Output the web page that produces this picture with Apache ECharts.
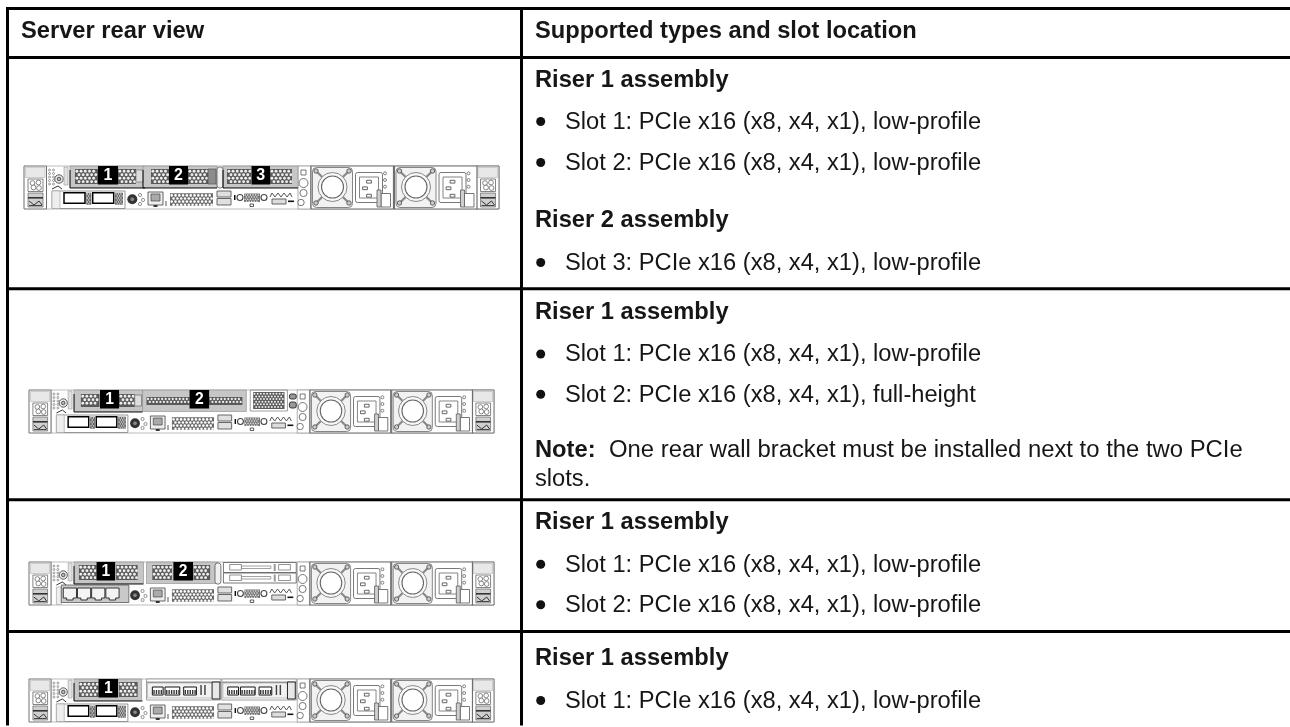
<!DOCTYPE html>
<html><head><meta charset="utf-8">
<style>html,body{margin:0;padding:0;background:#fff}#c{width:1290px;height:727px}</style>
<script src="https://cdn.jsdelivr.net/npm/echarts@6/dist/echarts.min.js"></script>
</head><body><div id="c"></div>
<script>
// ---- content ----
const headers = ['Server rear view', 'Supported types and slot location'];
const slotLP1 = 'Slot 1: PCIe x16 (x8, x4, x1), low-profile';
const slotLP2 = 'Slot 2: PCIe x16 (x8, x4, x1), low-profile';
const slotLP3 = 'Slot 3: PCIe x16 (x8, x4, x1), low-profile';
const slotFH2 = 'Slot 2: PCIe x16 (x8, x4, x1), full-height';
const riser1 = 'Riser 1 assembly', riser2 = 'Riser 2 assembly';
const noteLabel = 'Note:';
const noteLine1 = 'One rear wall bracket must be installed next to the two PCIe';
const noteLine2 = 'slots.';
const row1Lines = [['h', riser1], ['b', slotLP1], ['b', slotLP2], ['h', riser2], ['b', slotLP3]];
const row2Lines = [['h', riser1], ['b', slotLP1], ['b', slotFH2], ['n', noteLine1], ['t', noteLine2]];
const row3Lines = [['h', riser1], ['b', slotLP1], ['b', slotLP2]];
const row4Lines = [['h', riser1], ['b', slotLP1]];

// ---- layout ----
const FONT = '"Liberation Sans", Arial, sans-serif';
const INK = '#161616', RULE = '#000';
const hRules = [8.5, 57.5, 288.7, 499.8, 631.4];
const colX = 521.5, leftX = 7.5;
const textX = 535, slotX = 565, bulletX = 540.7;
const rowBase = [
  [87, 129, 170, 227, 270],
  [319, 361.5, 401.7, 456.7, 485.7],
  [529.3, 571.7, 612.3],
  [665, 708]
];
const rowLines = [row1Lines, row2Lines, row3Lines, row4Lines];
const serverBoxes = [
  {x: 24, y: 166, w: 475, h: 43, kind: 'three'},
  {x: 29, y: 390, w: 465, h: 43, kind: 'full'},
  {x: 29, y: 562, w: 465, h: 43, kind: 'drives'},
  {x: 29, y: 679, w: 465, h: 43, kind: 'risers'}
];

const els = [];
function rect(x, y, w, h, s) { return {type: 'rect', shape: {x, y, width: w, height: h, r: (s && s.r) || 0}, style: Object.assign({fill: 'none', stroke: null}, s), silent: true}; }
function circ(cx, cy, r, s) { return {type: 'circle', shape: {cx, cy, r}, style: Object.assign({fill: 'none', stroke: null}, s), silent: true}; }
function line(pts, s) { return {type: 'polyline', shape: {points: pts}, style: Object.assign({fill: 'none', stroke: '#555', lineWidth: 1}, s), silent: true}; }
function text(t, x, y, font, fill, align, sx) {
  return {type: 'text', x, y, scaleX: sx || 1, silent: true, style: {text: t, font, fill: fill || INK, textAlign: align || 'left', textVerticalAlign: 'middle'}};
}

// table rules
hRules.forEach(y => els.push(rect(leftX - 1.5, y - 1.5, 1290 - leftX + 1.5, 3, {fill: RULE})));
els.push(rect(leftX - 1.5, hRules[0] - 1.5, 3, 727 - hRules[0], {fill: RULE}));
els.push(rect(colX - 1.5, hRules[0] - 1.5, 3, 727 - hRules[0], {fill: RULE}));

// table text (baseline -> middle offset)
const SIZE = 23, MID = 6.5, STRETCH = 1.03, NOTE_STRETCH = 1.037;
const bold = 'bold ' + SIZE + 'px ' + FONT, reg = SIZE + 'px ' + FONT;
els.push(text(headers[0], 21, 38.5 - MID, bold, null, null, STRETCH));
els.push(text(headers[1], textX, 38.5 - MID, bold, null, null, STRETCH));
rowLines.forEach((lines, i) => lines.forEach((ln, j) => {
  const y = rowBase[i][j] - MID;
  if (ln[0] === 'h') els.push(text(ln[1], textX, y, bold, null, null, STRETCH));
  if (ln[0] === 'b') {
    els.push(circ(bulletX, rowBase[i][j] - 7.5, 4.5, {fill: '#111'}));
    els.push(text(ln[1], slotX, y, reg, null, null, STRETCH));
  }
  if (ln[0] === 'n') {
    els.push(text(noteLabel, textX, y, bold, null, null, STRETCH));
    els.push(text(ln[1], 609, y, reg, null, null, NOTE_STRETCH));
  }
  if (ln[0] === 't') els.push(text(ln[1], textX, y, reg, null, null, STRETCH));
}));

// ---- server drawing, local units 475 x 43 ----
const GR = '#6f6f6f', BAND = '#c6c6c6';
function honey(o, x, y, w, h, step, r, bg, hole) {
  o.push(rect(x, y, w, h, {fill: bg || '#5a5a5a'}));
  const st = step || 4.2, rad = r || 1.45;
  let row = 0;
  for (let yy = y + st * 0.55; yy < y + h - 0.6; yy += st * 0.82, row++) {
    for (let xx = x + (row % 2 ? st * 0.95 : st * 0.45); xx < x + w - 0.6; xx += st) {
      o.push(circ(xx, yy, rad, {fill: hole || '#eee'}));
    }
  }
}
function label(o, n, x, w) {
  o.push(rect(x, 0, w, 18.5, {fill: '#000'}));
  o.push(text(String(n), x + w / 2, 9.8, 'bold 16px ' + FONT, '#fff', 'center'));
}
function ear(o, x) {
  o.push(rect(x, 0, 22.5, 43, {fill: '#fff', stroke: GR, lineWidth: 1}));
  o.push(rect(x + 1.5, 1.5, 19.5, 10, {fill: '#e8e8e8', stroke: '#bbb', lineWidth: 0.7}));
  o.push(rect(x + 4, 13, 15, 12.5, {fill: '#fff', stroke: '#666', lineWidth: 0.8}));
  [[8.5, 17], [14.5, 16.5], [9.5, 21.5], [15, 22]].forEach(p => o.push(circ(x + p[0], p[1], 2.4, {fill: '#fff', stroke: '#555', lineWidth: 0.7})));
  o.push(rect(x + 4, 27, 15, 14, {fill: '#cfcfcf', stroke: '#666', lineWidth: 0.7}));
  o.push(rect(x + 4, 31, 15, 1.6, {fill: '#333'}));
  o.push(line([[x + 5, 35], [x + 10, 39], [x + 15, 35], [x + 18, 39]], {stroke: '#333', lineWidth: 1}));
  o.push(line([[x + 5, 39.5], [x + 18, 39.5]], {stroke: '#444', lineWidth: 1}));
}
function psu(o, u) {
  o.push(rect(u, 0, 82.5, 43, {fill: '#fff', stroke: GR, lineWidth: 1.2}));
  o.push(rect(u + 1.5, 1.5, 40, 40, {fill: '#f2f2f2', stroke: '#777', lineWidth: 0.9, r: 4}));
  const cx = u + 21.5, cy = 21;
  o.push(line([[u + 5, 5], [u + 38, 37]], {stroke: '#888', lineWidth: 2.2}));
  o.push(line([[u + 38, 5], [u + 5, 37]], {stroke: '#888', lineWidth: 2.2}));
  o.push(circ(cx, cy, 14.5, {fill: '#f8f8f8', stroke: '#888', lineWidth: 1}));
  o.push(circ(cx, cy, 11, {fill: '#fff', stroke: '#666', lineWidth: 1.1}));
  [[5, 5], [38, 5], [5, 37], [38, 37]].forEach(p => o.push(circ(u + p[0], p[1], 2.2, {fill: '#ccc', stroke: '#555', lineWidth: 0.9})));
  o.push(rect(u + 44.5, 6.5, 27, 30, {fill: '#fff', stroke: '#777', lineWidth: 1, r: 2}));
  o.push(rect(u + 48.5, 11, 19, 21, {fill: '#fff', stroke: '#777', lineWidth: 0.9}));
  [[58, 15.7], [54, 22.3], [58, 29.7]].forEach(p => o.push(rect(u + p[0] - 2.4, p[1] - 1.4, 4.8, 2.8, {fill: '#fff', stroke: '#555', lineWidth: 0.9})));
  [7.3, 14, 20.7].forEach(v => o.push(circ(u + 74, v, 1.5, {fill: '#fff', stroke: '#666', lineWidth: 0.8})));
  o.push(rect(u + 70, 27.5, 9.5, 13.5, {fill: '#fff', stroke: '#666', lineWidth: 0.9}));
  o.push(rect(u + 66, 24, 4, 17, {fill: '#cfcfcf', stroke: '#666', lineWidth: 0.9}));
}
function base(o, withOcp) {
  o.push(rect(22.5, 0, 452.5, 43, {fill: '#fff', stroke: '#aaa', lineWidth: 0.8}));
  ear(o, 0);
  ear(o, 452.5);
  for (let i = 0; i < 5; i++) {
    o.push(circ(25.5, 4 + i * 3.5, 1, {stroke: '#777', lineWidth: 0.7}));
    o.push(circ(29.5, 4 + i * 3.5, 1, {stroke: '#777', lineWidth: 0.7}));
  }
  o.push(circ(35, 13, 4.2, {fill: '#eee', stroke: '#555', lineWidth: 1}));
  o.push(circ(35, 13, 1.8, {fill: '#bbb', stroke: '#333', lineWidth: 0.8}));
  o.push(rect(40, 1, 4, 18, {fill: '#e2e2e2', stroke: '#999', lineWidth: 0.6}));
  o.push(line([[28, 23], [34, 20], [38, 23]], {stroke: '#333', lineWidth: 1}));
  if (withOcp) {
    o.push(rect(28, 25, 73, 17.5, {fill: '#fff', stroke: '#888', lineWidth: 0.9}));
    o.push(rect(28, 25, 8, 17.5, {fill: '#eee', stroke: '#aaa', lineWidth: 0.7}));
    o.push(rect(40, 26.7, 21, 10.6, {fill: '#fff', stroke: '#000', lineWidth: 1.5}));
    o.push(rect(68.7, 26.7, 21, 10.6, {fill: '#fff', stroke: '#000', lineWidth: 1.5}));
    honey(o, 62.3, 26.7, 5, 12, 2.4, 0.7, '#666');
    honey(o, 91, 26.7, 8, 12, 2.4, 0.7, '#666');
  } else {
    o.push(rect(28, 25, 5, 17.5, {fill: '#eee', stroke: '#aaa', lineWidth: 0.7}));
    o.push(rect(33, 23, 69, 17.5, {fill: '#c9c9c9', stroke: '#666', lineWidth: 0.9}));
    [35, 49.5, 64, 78.5].forEach(u => {
      o.push(line([[u, 26], [u + 13.5, 26], [u + 13.5, 36], [u + 10, 36], [u + 10, 38], [u + 3.5, 38], [u + 3.5, 36], [u, 36], [u, 26]], {fill: '#f4f4f4', stroke: '#333', lineWidth: 1}));
    });
  }
  o.push(circ(108.3, 33.3, 5, {fill: '#333'}));
  o.push(circ(108.3, 33.3, 2.3, {fill: '#888', stroke: '#222', lineWidth: 0.6}));
  [[116, 29], [119, 34], [116, 38]].forEach(p => o.push(circ(p[0], p[1], 1.6, {stroke: '#666', lineWidth: 0.7})));
  o.push(rect(124, 26, 15, 13, {fill: '#eee', stroke: '#555', lineWidth: 0.9}));
  o.push(rect(127, 28, 9, 7, {fill: '#aaa', stroke: '#444', lineWidth: 0.7}));
  o.push(rect(129.5, 39, 4, 2, {fill: '#333'}));
  o.push(line([[142, 35], [142, 40]], {stroke: '#555', lineWidth: 1}));
  honey(o, 146, 27.3, 43, 12.4, 3.8, 1.3, '#6a6a6a', '#fff');
  o.push(rect(193, 25, 14, 6, {fill: '#e0e0e0', stroke: '#666', lineWidth: 1}));
  o.push(rect(193, 32.5, 14, 6.5, {fill: '#e0e0e0', stroke: '#666', lineWidth: 1}));
  o.push(rect(210, 29, 1.5, 5, {fill: '#111'}));
  o.push(circ(216, 31.5, 3, {fill: '#fff', stroke: '#444', lineWidth: 1.1}));
  o.push(circ(240, 31.5, 3, {fill: '#fff', stroke: '#444', lineWidth: 1.1}));
  honey(o, 220, 27.5, 16, 8.5, 2.6, 0.75, '#777');
  o.push(rect(226, 38, 3.5, 2.5, {stroke: '#333', lineWidth: 0.8, fill: '#fff'}));
  o.push(line([[246, 31], [248, 27], [251, 31], [254, 27], [257, 31], [260, 27], [263, 31], [266, 27], [268, 31]], {stroke: '#555', lineWidth: 1}));
  o.push(rect(248, 33, 14, 5, {fill: '#ddd', stroke: '#555', lineWidth: 0.9}));
  o.push(rect(264, 34.5, 6, 1.6, {fill: '#111'}));
  o.push(rect(274, 0, 12.5, 43, {fill: '#fff', stroke: '#999', lineWidth: 0.8}));
  o.push(rect(277, 4, 5, 5, {stroke: '#555', lineWidth: 0.8}));
  [[279.5, 17, 4.5], [279.5, 27, 3.6], [277, 36.5, 3.2]].forEach(p => o.push(circ(p[0], p[1], p[2], {fill: '#fff', stroke: '#666', lineWidth: 0.9})));
  psu(o, 287);
  psu(o, 370.5);
}
function band(o, x, w, h) { o.push(rect(x, 0, w, h || 21.5, {fill: BAND, stroke: '#888', lineWidth: 0.6})); }
function bracket(o, a, b) { o.push(line([[a, 4], [a, 22], [b, 22]], {stroke: '#111', lineWidth: 1})); }
function riserUnit(o, x) {
  o.push(rect(x, 0, 76, 21, {fill: '#fff', stroke: '#888', lineWidth: 0.8}));
  o.push(rect(x, 2.5, 76, 1.5, {fill: '#999'}));
  o.push(rect(x + 1, 4, 67, 15, {fill: '#f2f2f2', stroke: '#999', lineWidth: 0.6}));
  [[6, 11], [19, 15], [38, 13]].forEach(p => {
    o.push(rect(x + p[0], 8, p[1], 8, {fill: '#fff', stroke: '#111', lineWidth: 1}));
    for (let i = 0; i < p[1] - 2; i += 2.5) o.push(rect(x + p[0] + 1 + i, 11, 1.4, 4, {fill: '#333'}));
  });
  o.push(rect(x + 55, 6, 1.5, 10, {fill: '#444'}));
  o.push(rect(x + 59, 6, 1.5, 10, {fill: '#444'}));
  o.push(rect(x + 67, 3, 8, 17, {fill: '#e8e8e8', stroke: '#222', lineWidth: 1}));
}
const variants = {
  three(o) {
    band(o, 46, 75); band(o, 119, 74); band(o, 199, 75);
    honey(o, 51, 3, 23, 15); honey(o, 94, 3, 18, 15);
    o.push(rect(112, 4, 7, 12, {fill: '#dcdcdc', stroke: '#777', lineWidth: 0.7}));
    honey(o, 127, 3, 18, 15); honey(o, 164, 3, 20, 15);
    o.push(rect(184, 3, 8, 15, {fill: '#8c8c8c', stroke: '#555', lineWidth: 0.7}));
    o.push(rect(193, 1, 6, 21, {fill: '#f0f0f0', stroke: '#555', lineWidth: 0.8, r: 2.5}));
    honey(o, 203, 3, 24, 15); honey(o, 246, 3, 22, 15);
    bracket(o, 46, 121); bracket(o, 119, 193); bracket(o, 199, 274);
    label(o, 1, 74, 20); label(o, 2, 145, 19); label(o, 3, 227.5, 18.5);
  },
  full(o) {
    band(o, 46, 70); band(o, 116, 106);
    honey(o, 53, 4, 19, 13); honey(o, 92, 4, 16, 13);
    o.push(rect(108, 5, 7, 11, {fill: '#dedede', stroke: '#666', lineWidth: 0.7}));
    honey(o, 120, 7, 44, 8, 3.6, 1.15); honey(o, 184, 7, 34, 8, 3.6, 1.15);
    honey(o, 229, 2, 32, 17, 3.2, 1, '#5a5a5a');
    o.push(rect(226, 0, 38, 21, {stroke: '#888', lineWidth: 0.8}));
    bracket(o, 46, 116);
    o.push(rect(266, 4, 7, 5, {fill: '#999', stroke: '#222', lineWidth: 0.9, r: 2}));
    o.push(rect(266, 12, 7, 6, {fill: '#999', stroke: '#222', lineWidth: 0.9, r: 2}));
    label(o, 1, 72.5, 19.5); label(o, 2, 164, 20);
  },
  drives(o) {
    band(o, 46, 71); band(o, 120, 73);
    honey(o, 51, 3, 18, 15); honey(o, 89, 3, 22, 15);
    honey(o, 126, 3, 20, 15); honey(o, 168, 3, 17, 15);
    o.push(rect(190, 1, 6, 21, {fill: '#f0f0f0', stroke: '#555', lineWidth: 0.8, r: 2.5}));
    [0.5, 11].forEach(v => {
      o.push(rect(198.6, v, 74.4, 10, {fill: '#fff', stroke: '#666', lineWidth: 0.9}));
      o.push(rect(205, v + 2, 12, 5.5, {fill: '#fff', stroke: '#777', lineWidth: 0.8}));
      o.push(rect(217, v + 3.5, 30, 2.5, {fill: '#fff', stroke: '#777', lineWidth: 0.7}));
      o.push(rect(250, v + 1.5, 2, 7, {fill: '#999'}));
      o.push(rect(255, v + 2, 12, 5.5, {fill: '#fff', stroke: '#777', lineWidth: 0.8}));
    });
    bracket(o, 46, 117);
    label(o, 1, 69, 19); label(o, 2, 147.5, 20);
  },
  risers(o) {
    band(o, 46, 69);
    honey(o, 51, 3, 20, 15); honey(o, 92, 3, 19, 15);
    bracket(o, 46, 116);
    riserUnit(o, 120); riserUnit(o, 197);
    label(o, 1, 71, 20);
  }
};
serverBoxes.forEach(b => {
  const kids = [];
  base(kids, b.kind !== 'drives');
  variants[b.kind](kids);
  els.push({type: 'group', x: b.x, y: b.y, scaleX: b.w / 475, scaleY: b.h / 43, silent: true, children: kids});
});

const chart = echarts.init(document.getElementById('c'), null, {renderer: 'canvas', width: 1290, height: 727});
chart.setOption({animation: false, backgroundColor: '#fff', graphic: {elements: els}});
</script></body></html>
